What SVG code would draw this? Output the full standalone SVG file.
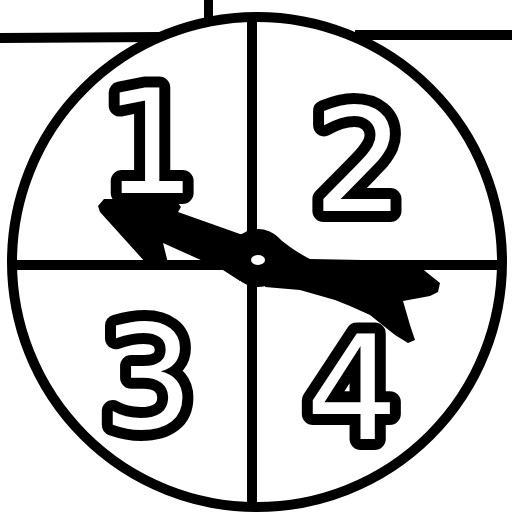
<svg xmlns="http://www.w3.org/2000/svg" width="512" height="517" viewBox="0 0 512 517">
<style>
.ln{stroke:#000;stroke-width:10;fill:none;stroke-linecap:butt}
.num{font-family:"DejaVu Sans",sans-serif;font-size:145px;fill:#fff;stroke:#000;stroke-width:22;stroke-linejoin:round;paint-order:stroke;text-anchor:middle}
</style>
<rect width="512" height="517" fill="#fff"/>
<g id="frame">
<line class="ln" x1="0" y1="38" x2="160" y2="37"/>
<line class="ln" x1="355" y1="35" x2="512" y2="35"/>
<rect x="204" y="0" width="9" height="20" fill="#000"/>
</g>
<g id="spinner">
<circle class="ln" cx="257" cy="262" r="245"/>
<line class="ln" x1="252" y1="17" x2="252" y2="507"/>
<line class="ln" x1="12" y1="265" x2="502" y2="265"/>
</g>
<g id="n1"><text class="num" x="150" y="193">1</text></g>
<g id="n2"><text class="num" x="359" y="211">2</text></g>
<g id="n3"><text class="num" x="148" y="428">3</text></g>
<g id="n4"><text class="num" x="352" y="439">4</text></g>
<g id="pointer" fill="#000">
<path d="M98,206 L104,199 L175,199 L181,207 L178,212 L240,234 L255,236 L258,259 L240,281 L223,270 L163,243 L168,263 L146,263 L100,212 Z"/>
<circle cx="258" cy="258" r="29"/>
<path d="M275,235 Q292,250 310,259 L415,261 L425,271 L440,283 L438,292 L430,296 L403,301 L410,325 L415,340 L408,343 L395,335 L370,315 L350,306 L335,300 L300,290 L265,287 Z"/>
<ellipse cx="258" cy="260" rx="7" ry="5" fill="#fff"/>
</g>
</svg>
